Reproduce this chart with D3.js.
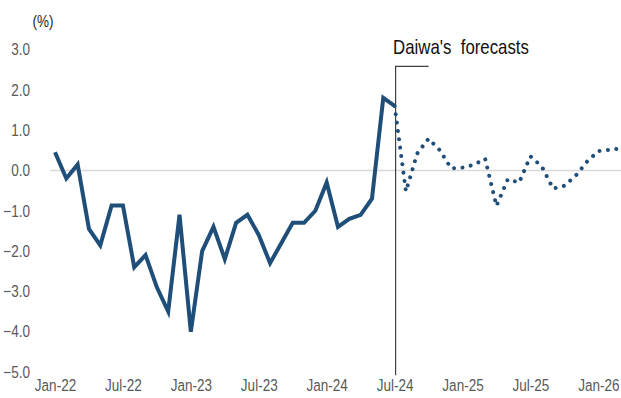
<!DOCTYPE html>
<html><head><meta charset="utf-8">
<script src="https://cdn.jsdelivr.net/npm/d3@7"></script>
<style>
html,body{margin:0;padding:0;background:#fff;}
svg text{font-family:"Liberation Sans",Arial,sans-serif;}
</style></head>
<body>
<svg id="c" width="621" height="398"></svg>
<script>
// ---- data ----
const months = ["Jan-22","Feb-22","Mar-22","Apr-22","May-22","Jun-22","Jul-22","Aug-22","Sep-22","Oct-22","Nov-22","Dec-22",
"Jan-23","Feb-23","Mar-23","Apr-23","May-23","Jun-23","Jul-23","Aug-23","Sep-23","Oct-23","Nov-23","Dec-23",
"Jan-24","Feb-24","Mar-24","Apr-24","May-24","Jun-24","Jul-24","Aug-24","Sep-24","Oct-24","Nov-24","Dec-24",
"Jan-25","Feb-25","Mar-25","Apr-25","May-25","Jun-25","Jul-25","Aug-25","Sep-25","Oct-25","Nov-25","Dec-25",
"Jan-26","Feb-26","Mar-26"];
const actual = [0.45,-0.2,0.15,-1.45,-1.86,-0.87,-0.87,-2.4,-2.1,-2.9,-3.5,-1.1,
-4.0,-2.0,-1.4,-2.2,-1.3,-1.1,-1.6,-2.3,-1.8,-1.3,-1.3,-1.0,
-0.3,-1.4,-1.2,-1.1,-0.7,1.8,1.6];
const forecastStart = "Jul-24";
const forecast = [1.6,-0.52,0.42,0.79,0.5,0.05,0.07,0.14,0.29,-0.88,-0.22,-0.3,0.35,0.1,-0.45,-0.38,-0.13,0.22,0.48,0.51,0.55];
const xTickLabels = ["Jan-22","Jul-22","Jan-23","Jul-23","Jan-24","Jul-24","Jan-25","Jul-25","Jan-26"];
const yTicks = [3,2,1,0,-1,-2,-3,-4,-5];
const unitLabel = "(%)";
const annotation = "Daiwa's\u00a0\u00a0forecasts";

const NARROW = 0.82;
const svg = d3.select("#c");
const x = d3.scaleLinear().domain([0, months.length-1]).range([55, 621]);
const y = d3.scaleLinear().domain([-5, 3]).range([372, 49.5]);
const idx = m => months.indexOf(m);

// zero gridline
svg.append("line").attr("x1", 50).attr("x2", 621).attr("y1", y(0)).attr("y2", y(0))
  .attr("stroke", "#d9d9d9").attr("stroke-width", 1.5);

// y axis labels
const yAxis = d3.axisLeft(y).tickValues(yTicks).tickFormat(d3.format(".1f")).tickSize(0).tickPadding(0);
const gy = svg.append("g").attr("transform", "translate(30,0)").call(yAxis);
gy.select(".domain").remove();
gy.selectAll("text").attr("x", 0).attr("font-size", 16.5).attr("fill", "#595959")
  .attr("transform", `scale(${NARROW},1)`)
  .style("font-family", '"Liberation Sans",Arial,sans-serif');

// x axis labels
const xAxis = d3.axisBottom(x).tickValues(xTickLabels.map(idx)).tickFormat(i => months[i]).tickSize(0).tickPadding(0);
const gx = svg.append("g").attr("transform", "translate(0,379.5)").call(xAxis);
gx.select(".domain").remove();
gx.selectAll("text").attr("y", 0).attr("font-size", 16.5).attr("fill", "#595959").attr("dy", "0.71em")
  .attr("transform", `scale(${NARROW},1)`)
  .style("font-family", '"Liberation Sans",Arial,sans-serif');

// unit label
svg.append("g").attr("transform", "translate(43,27)")
  .append("text").attr("text-anchor", "middle").attr("transform", `scale(${NARROW},1)`)
  .attr("font-size", 16.5).attr("fill", "#262626").text(unitLabel);

// forecast bracket
const fi = idx(forecastStart);
svg.append("path")
  .attr("d", `M${x(fi)+1},${y(-5.08)}V${y(2.58)}H${x(fi+3)}`)
  .attr("fill", "none").attr("stroke", "#404040").attr("stroke-width", 1.2);
svg.append("g").attr("transform", `translate(${x(fi)-1.5},54)`)
  .append("text").attr("transform", `scale(${NARROW},1)`)
  .attr("font-size", 20.5).attr("fill", "#111").text(annotation);

// lines
const line = d3.line().x(d => x(d[0])).y(d => y(d[1]));
svg.append("path").datum(forecast.map((v,i) => [fi+i, v]))
  .attr("d", line).attr("fill", "none").attr("stroke", "#1f4e79")
  .attr("stroke-width", 4).attr("stroke-linecap", "round").attr("stroke-dasharray", "0.01,8.4");
svg.append("path").datum(actual.map((v,i) => [i, v]))
  .attr("d", line).attr("fill", "none").attr("stroke", "#1f4e79")
  .attr("stroke-width", 4).attr("stroke-linejoin", "miter");
</script>
</body></html>
